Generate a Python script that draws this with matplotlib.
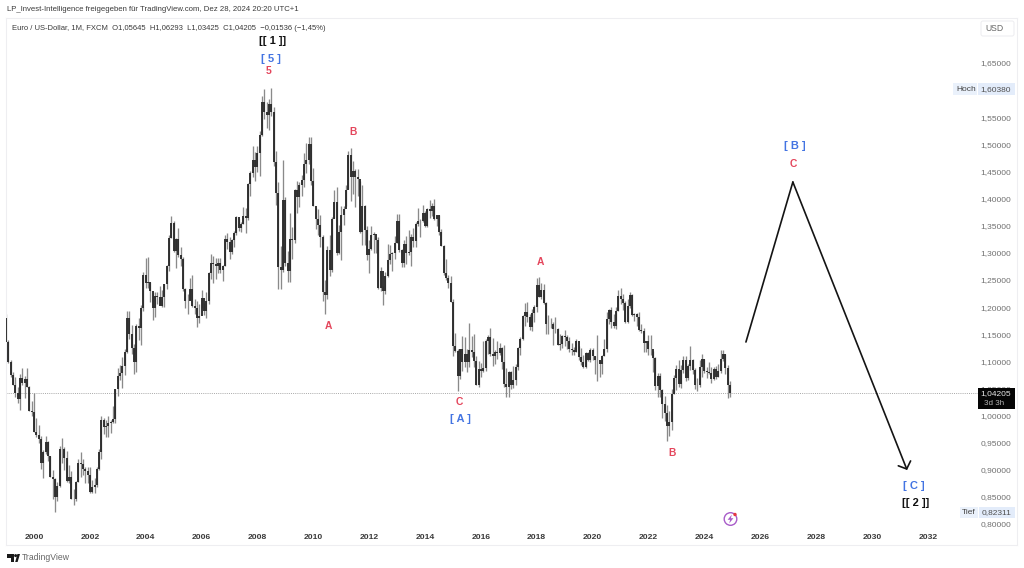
import matplotlib
matplotlib.use("Agg")
import matplotlib.pyplot as plt
from matplotlib.patches import Rectangle, Circle, Polygon, FancyBboxPatch
from matplotlib.transforms import Affine2D

plt.rcParams['font.family'] = ['Liberation Sans', 'DejaVu Sans']

first_open = 1.1790
closes = [
 1.1350,1.0980,1.0755,1.0570,1.0420,1.0310,1.0700,1.0600,1.0680,1.0530,1.0090,1.0070,
 0.9700,0.9650,0.9570,0.9120,0.9320,0.9520,0.9260,0.8870,0.8830,0.8490,0.8700,0.9390,
 0.9380,0.9210,0.8800,0.8870,0.8470,0.8470,0.8770,0.9120,0.9110,0.9020,0.8980,0.8900,
 0.8590,0.8690,0.8720,0.9020,0.9330,0.9920,0.9780,0.9800,0.9870,0.9880,0.9930,1.0490,
 1.0730,1.0780,1.0910,1.1170,1.1800,1.1510,1.1250,1.0980,1.1650,1.1610,1.1990,1.2590,
 1.2450,1.2470,1.2290,1.1980,1.2200,1.2190,1.2020,1.2180,1.2430,1.2760,1.3270,1.3550,
 1.3040,1.3250,1.2960,1.2880,1.2340,1.2110,1.2120,1.2340,1.2020,1.1990,1.1790,1.1840,
 1.2160,1.1930,1.2110,1.2620,1.2820,1.2790,1.2760,1.2810,1.2680,1.2760,1.3250,1.3200,
 1.3020,1.3230,1.3360,1.3660,1.3450,1.3540,1.3680,1.3640,1.4260,1.4480,1.4710,1.4590,
 1.4840,1.5180,1.5790,1.5600,1.5550,1.5750,1.5600,1.4670,1.4100,1.2730,1.2690,1.3970,
 1.2810,1.2660,1.3250,1.3240,1.4150,1.4030,1.4250,1.4340,1.4640,1.4720,1.5000,1.4320,
 1.3860,1.3630,1.3510,1.3290,1.2270,1.2230,1.3050,1.2680,1.3630,1.3940,1.3000,1.3380,
 1.3690,1.3800,1.4160,1.4810,1.4390,1.4500,1.4390,1.4370,1.3390,1.3870,1.3430,1.2960,
 1.3080,1.3320,1.3340,1.3240,1.2360,1.2670,1.2300,1.2570,1.2860,1.2970,1.2990,1.3190,
 1.3580,1.3060,1.2820,1.3170,1.2990,1.3010,1.3300,1.3220,1.3530,1.3580,1.3590,1.3740,
 1.3490,1.3810,1.3770,1.3870,1.3630,1.3690,1.3390,1.3130,1.2630,1.2530,1.2450,1.2100,
 1.1290,1.1190,1.0730,1.1220,1.0990,1.1140,1.0980,1.1210,1.1170,1.1000,1.0560,1.0860,
 1.0830,1.0870,1.1380,1.1450,1.1130,1.1100,1.1170,1.1160,1.1240,1.0980,1.0590,1.0520,
 1.0800,1.0570,1.0650,1.0900,1.1240,1.1420,1.1840,1.1910,1.1810,1.1640,1.1900,1.2000,
 1.2410,1.2190,1.2320,1.2080,1.1690,1.1680,1.1690,1.1600,1.1600,1.1310,1.1320,1.1470,
 1.1450,1.1370,1.1220,1.1210,1.1170,1.1370,1.1080,1.0990,1.0900,1.1150,1.1020,1.1210,
 1.1090,1.1030,1.1030,1.0950,1.1100,1.1230,1.1780,1.1940,1.1720,1.1650,1.1930,1.2210,
 1.2140,1.2070,1.1730,1.2020,1.2220,1.1860,1.1870,1.1810,1.1580,1.1560,1.1340,1.1370,
 1.1230,1.1220,1.1070,1.0540,1.0730,1.0480,1.0220,1.0050,0.9800,0.9880,1.0400,1.0700,
 1.0860,1.0580,1.0840,1.1020,1.0690,1.0910,1.1020,1.0840,1.0570,1.0570,1.0890,1.1040,
 1.0820,1.0810,1.0790,1.0670,1.0850,1.0710,1.0820,1.1050,1.1130,1.0880,1.05645,1.04205,
]
highs = [
 1.1880,1.1390,1.1030,1.0810,1.0710,1.0530,1.0770,1.0880,1.0730,1.0880,1.0540,1.0260,
 1.0410,0.9950,0.9820,0.9620,0.9360,0.9630,0.9530,0.9260,0.9000,0.8840,0.8780,0.9440,
 0.9590,0.9420,0.9340,0.9080,0.8980,0.8640,0.8800,0.9200,0.9320,0.9190,0.9060,0.9050,
 0.9050,0.8820,0.8840,0.9050,0.9390,0.9990,0.9960,0.9910,0.9990,0.9920,1.0180,1.0490,
 1.0880,1.0930,1.1080,1.1230,1.1930,1.1930,1.1670,1.1320,1.1680,1.1800,1.2030,1.2640,
 1.2900,1.2930,1.2460,1.2270,1.2270,1.2270,1.2380,1.2310,1.2430,1.2770,1.3320,1.3670,
 1.3580,1.3270,1.3460,1.3100,1.2930,1.2350,1.2250,1.2540,1.2590,1.2150,1.2120,1.2050,
 1.2320,1.2080,1.2270,1.2640,1.2980,1.2940,1.2900,1.2910,1.2910,1.2780,1.3330,1.3370,
 1.3290,1.3250,1.3400,1.3680,1.3620,1.3570,1.3850,1.3830,1.4280,1.4500,1.4970,1.4860,
 1.4970,1.5240,1.5900,1.6020,1.5780,1.5830,1.6038,1.5680,1.4870,1.4310,1.3120,1.4720,
 1.4030,1.3030,1.3740,1.3470,1.4170,1.4330,1.4310,1.4440,1.4840,1.5030,1.5140,1.5140,
 1.4570,1.3820,1.3810,1.3690,1.3320,1.2500,1.3120,1.3330,1.3660,1.4150,1.4220,1.3520,
 1.3860,1.3860,1.4250,1.4880,1.4940,1.4700,1.4540,1.4550,1.4330,1.4250,1.3880,1.3490,
 1.3230,1.3490,1.3380,1.3290,1.3290,1.2740,1.2390,1.2640,1.3170,1.3140,1.3010,1.3310,
 1.3710,1.3710,1.3080,1.3240,1.3310,1.3420,1.3350,1.3450,1.3570,1.3830,1.3620,1.3890,
 1.3780,1.3820,1.3970,1.3920,1.3995,1.3680,1.3700,1.3440,1.3150,1.2890,1.2600,1.2570,
 1.2140,1.1530,1.1220,1.1230,1.1470,1.1440,1.1220,1.1710,1.1460,1.1500,1.1100,1.1000,
 1.0970,1.1380,1.1410,1.1490,1.1620,1.1430,1.1200,1.1370,1.1330,1.1270,1.1300,1.0870,
 1.0830,1.0830,1.0910,1.0950,1.1270,1.1450,1.1850,1.2070,1.2090,1.1880,1.1960,1.2030,
 1.2530,1.2556,1.2450,1.2420,1.2090,1.1860,1.1790,1.1730,1.1810,1.1620,1.1500,1.1490,
 1.1570,1.1490,1.1450,1.1330,1.1270,1.1410,1.1290,1.1250,1.1110,1.1180,1.1180,1.1240,
 1.1240,1.1100,1.1490,1.1010,1.1110,1.1420,1.1910,1.1970,1.2010,1.1880,1.2000,1.2310,
 1.2349,1.2240,1.2110,1.2150,1.2270,1.2240,1.1900,1.1900,1.1910,1.1690,1.1610,1.1380,
 1.1490,1.1490,1.1190,1.1080,1.0790,1.0780,1.0490,1.0360,1.0200,1.0090,1.0490,1.0740,
 1.0930,1.1030,1.0930,1.1100,1.1090,1.0950,1.1275,1.1050,1.0880,1.0690,1.1020,1.1140,
 1.1050,1.0900,1.0980,1.0890,1.0890,1.0920,1.0950,1.1200,1.1210,1.1140,1.0930,1.06293,
]
lows = [
 1.1350,1.0970,1.0710,1.0560,1.0350,1.0230,1.0100,1.0560,1.0320,1.0520,1.0080,0.9990,
 0.9690,0.9600,0.9490,0.9010,0.8840,0.9300,0.9160,0.8870,0.8460,0.8231,0.8430,0.8690,
 0.9120,0.9000,0.8770,0.8750,0.8460,0.8350,0.8420,0.8770,0.8870,0.8910,0.8760,0.8760,
 0.8570,0.8580,0.8580,0.8680,0.9000,0.9200,0.9660,0.9610,0.9610,0.9680,0.9860,0.9860,
 1.0360,1.0650,1.0500,1.0750,1.1160,1.1410,1.1130,1.0770,1.0810,1.1400,1.1310,1.1930,
 1.2360,1.2350,1.2090,1.1760,1.1810,1.2060,1.2030,1.2000,1.2000,1.2330,1.2670,1.3270,
 1.3020,1.2720,1.2920,1.2760,1.2300,1.1980,1.1870,1.2130,1.2000,1.1870,1.1640,1.1710,
 1.1980,1.1860,1.1800,1.2060,1.2520,1.2450,1.2520,1.2630,1.2620,1.2480,1.2750,1.3070,
 1.2880,1.2970,1.3100,1.3330,1.3400,1.3380,1.3530,1.3370,1.3600,1.4050,1.4400,1.4320,
 1.4490,1.4420,1.5160,1.5460,1.5310,1.5270,1.5530,1.4600,1.3880,1.2330,1.2330,1.2650,
 1.2750,1.2460,1.2460,1.2890,1.3190,1.3740,1.3840,1.4050,1.4210,1.4480,1.4630,1.4250,
 1.3860,1.3440,1.3330,1.3110,1.2110,1.1880,1.2150,1.2580,1.2650,1.3640,1.2960,1.2970,
 1.2870,1.3510,1.3860,1.4180,1.3960,1.4090,1.3840,1.4050,1.3360,1.3140,1.3140,1.2860,
 1.2620,1.3050,1.3000,1.3000,1.2340,1.2290,1.2040,1.2240,1.2560,1.2800,1.2660,1.2880,
 1.3180,1.3020,1.2740,1.2740,1.2790,1.2960,1.2750,1.3100,1.3110,1.3490,1.3290,1.3570,
 1.3480,1.3480,1.3650,1.3670,1.3600,1.3490,1.3330,1.3130,1.2590,1.2500,1.2360,1.2100,
 1.1100,1.1170,1.0460,1.0670,1.0820,1.0890,1.0800,1.0890,1.1080,1.0890,1.0560,1.0520,
 1.0710,1.0810,1.0820,1.1140,1.1100,1.0910,1.0950,1.1040,1.1120,1.0860,1.0520,1.0340,
 1.0340,1.0490,1.0500,1.0570,1.0840,1.1120,1.1400,1.1660,1.1720,1.1570,1.1550,1.1720,
 1.1910,1.2180,1.2150,1.2050,1.1510,1.1510,1.1610,1.1300,1.1530,1.1300,1.1210,1.1250,
 1.1280,1.1230,1.1170,1.1110,1.1110,1.1180,1.1030,1.0930,1.0880,1.0880,1.1000,1.0980,
 1.1030,1.0770,1.0630,1.0720,1.0770,1.1100,1.1180,1.1690,1.1610,1.1620,1.1600,1.1920,
 1.2050,1.1950,1.1710,1.1700,1.1990,1.1840,1.1750,1.1660,1.1560,1.1520,1.1180,1.1180,
 1.1120,1.1110,1.0810,1.0470,1.0350,1.0340,0.9950,0.9900,0.9535,0.9630,0.9730,1.0390,
 1.0480,1.0530,1.0510,1.0790,1.0630,1.0660,1.0840,1.0770,1.0490,1.0450,1.0520,1.0720,
 1.0790,1.0700,1.0760,1.0600,1.0650,1.0670,1.0710,1.0780,1.1000,1.0760,1.0330,1.03425,
]
year_ticks = [2000,2002,2004,2006,2008,2010,2012,2014,2016,2018,2020,2022,2024,2026,2028,2030,2032]
price_ticks = [0.80,0.85,0.90,0.95,1.00,1.05,1.10,1.15,1.20,1.25,1.30,1.35,1.40,1.45,1.50,1.55,1.60,1.65]
path_years = [2025.49, 2027.17]
path_prices = [1.1356, 1.4306]
arrow_end = (2031.26, 0.8996)

W, H = 1024, 568
fig = plt.figure(figsize=(W/100, H/100), dpi=100, facecolor='white')
L, R, T, B = 6, 1017, 18, 545
ax = fig.add_axes([L/W, 1-B/H, (R-L)/W, (B-T)/H])
ax.set_xlim(2000+(L-34)/27.93, 2000+(R-34)/27.93)
ax.set_ylim(1.65-(B-63)/542.4, 1.65-(T-63)/542.4)
for s in ax.spines.values():
    s.set_color('#eeeef1'); s.set_linewidth(0.8)

n = len(closes)
xs = [1999 + i/12 for i in range(n)]
opens = [first_open] + closes[:-1]
ax.vlines(xs, lows, highs, color='#8a8a8a', linewidth=0.95, capstyle='butt', zorder=2)
ax.vlines(xs, opens, closes, color='#2a2a2a', linewidth=1.35, capstyle='butt', zorder=3)

ax.hlines(closes[-1], ax.get_xlim()[0], 2000+(978-34)/27.93, color='#a8a8a8',
          linewidth=0.7, linestyles=(0, (1, 1.2)), zorder=1)

# forecast path
ax.plot(path_years, path_prices, color='#141414', lw=1.2, solid_capstyle='round', zorder=4)
ax.annotate('', xy=arrow_end, xytext=(path_years[1], path_prices[1]),
            arrowprops=dict(arrowstyle='->,head_length=0.31,head_width=0.34', color='#141414',
                            lw=1.2, shrinkA=0, shrinkB=0, mutation_scale=14), zorder=4)

ax.set_xticks(year_ticks)
ax.set_xticklabels([str(y) for y in year_ticks], fontsize=6.1, color='#3a3a3a', fontweight='bold')
ax.tick_params(axis='x', length=0, pad=-7.7)
ax.yaxis.tick_right()
ax.set_yticks(price_ticks)
ax.set_yticklabels([f"{p:.5f}".replace('.', ',') for p in price_ticks], fontsize=6.0, color='#707070', ha='right')
ax.tick_params(axis='y', length=0, pad=-4.0)

px = Affine2D().scale(1, -1).translate(0, H)

def label(x, y, s, size, color, weight='normal', ha='center', va='center', **kw):
    return fig.text(x, y, s, transform=px, fontsize=size, color=color, fontweight=weight,
                    ha=ha, va=va, zorder=20, **kw)

def box(x0, y0, x1, y1, fc, ec='none', lw=0):
    fig.add_artist(Rectangle((x0, y0), x1-x0, y1-y0, transform=px, fc=fc, ec=ec, lw=lw, zorder=10))

label(7, 9.5, "LP_Invest-Intelligence freigegeben für TradingView.com, Dez 28, 2024 20:20 UTC+1", 5.6, '#3a3a3a', ha='left')
label(12, 28.5, "Euro / US-Dollar, 1M, FXCM  O1,05645  H1,06293  L1,03425  C1,04205  −0,01536 (−1,45%)", 5.53, '#3a3a3a', ha='left')

RED = '#e4465c'; BLUE = '#4374e2'; BLK = '#111111'
label(272.5, 41, "[[ 1 ]]", 8, BLK, 'bold')
label(271, 59, "[ 5 ]", 8, BLUE, 'bold')
label(269, 71.5, "5", 7.5, RED, 'bold')
label(353, 132, "B", 7.4, RED, 'bold')
label(328, 326, "A", 7.4, RED, 'bold')
label(459, 402, "C", 7.4, RED, 'bold')
label(460, 418.5, "[ A ]", 8, BLUE, 'bold')
label(540, 262, "A", 7.4, RED, 'bold')
label(672, 453, "B", 7.4, RED, 'bold')
label(795, 146, "[ B ]", 8, BLUE, 'bold')
label(793, 164, "C", 7.4, RED, 'bold')
label(914, 486, "[ C ]", 8, BLUE, 'bold')
label(916, 503, "[[ 2 ]]", 8, BLK, 'bold')

# right scale boxes
fig.add_artist(FancyBboxPatch((981, 21), 33, 15, boxstyle='round,pad=0,rounding_size=2', transform=px,
                              fc='white', ec='#ececf0', lw=0.7, zorder=10))
label(985.5, 28.5, "USD", 6.2, '#666666', ha='left')
box(953, 83, 977, 95, '#eaf1fb'); box(978, 83, 1015, 95, '#e3ecfa')
label(956, 89.5, "Hoch", 6.0, '#444444', ha='left')
label(1011, 89.5, "1,60380", 6.0, '#505050', ha='right')
box(960, 507, 978, 518, '#eaf1fb'); box(979, 507, 1015, 518, '#e3ecfa')
label(962, 513, "Tief", 6.0, '#444444', ha='left')
label(1011, 513, "0,82311", 6.0, '#505050', ha='right')
box(978, 388, 1015, 409, '#050505')
label(1011, 394, "1,04205", 6.0, '#e8e8e8', ha='right')
label(984, 403.5, "3d 3h", 5.8, '#b5b5b5', ha='left')

# publish icon
fig.add_artist(Circle((730.5, 519), 6.3, transform=px, fc='white', ec='#a85cc9', lw=1.0, zorder=10))
fig.add_artist(Polygon([(731.8, 514.6), (727.6, 519.8), (730.1, 519.8), (729.2, 523.4), (733.4, 518.2), (730.9, 518.2)],
                       closed=True, transform=px, fc='#a85cc9', ec='none', zorder=11))
fig.add_artist(Circle((735, 514.5), 1.7, transform=px, fc='#e5393f', ec='none', zorder=12))

# TradingView logo
fig.add_artist(Polygon([(7, 554), (14, 554), (14, 562), (10.5, 562), (10.5, 557.5), (7, 557.5)],
                       closed=True, transform=px, fc='#1a1a1a', ec='none', zorder=11))
fig.add_artist(Circle((15.6, 555.6), 1.5, transform=px, fc='#1a1a1a', ec='none', zorder=11))
fig.add_artist(Polygon([(15.2, 562), (17.4, 554), (20, 554), (17.6, 562)],
                       closed=True, transform=px, fc='#1a1a1a', ec='none', zorder=11))
label(22, 558, "TradingView", 6.25, '#666666', ha='left')

fig.savefig('out.png', dpi=100, facecolor='white')
